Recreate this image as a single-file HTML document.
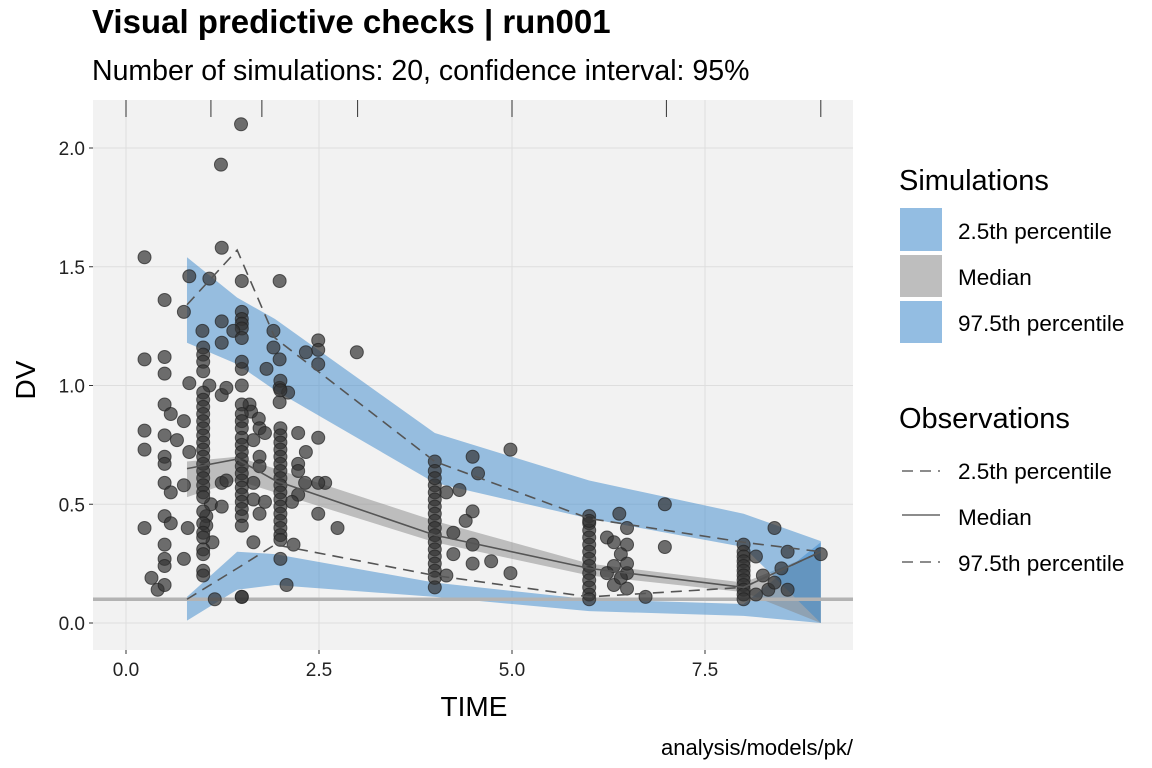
<!DOCTYPE html>
<html><head><meta charset="utf-8"><style>
body{margin:0;background:#fff;}
svg{display:block;font-family:"Liberation Sans",Arial,sans-serif;}
</style></head><body>
<svg id="chart" width="1152" height="768" viewBox="0 0 1152 768" xmlns="http://www.w3.org/2000/svg">
<text x="92" y="33" font-size="33" font-weight="bold">Visual predictive checks | run001</text>
<text x="92" y="80" font-size="28.5">Number of simulations: 20, confidence interval: 95%</text>
<rect x="93" y="100" width="760" height="550" fill="#f2f2f2"/>
<g id="grid"></g>
<g id="ribbons"></g>
<line id="lloq" x1="93" x2="853" stroke="#b3b3b3" stroke-width="3.5"/>
<g id="points"></g>
<g id="lines"></g>
<g id="rug"></g>
<g id="axes"></g>
<text x="474" y="716" font-size="28" text-anchor="middle">TIME</text>
<text transform="translate(35,380) rotate(-90)" font-size="28" text-anchor="middle">DV</text>
<text x="853" y="755" font-size="22" text-anchor="end">analysis/models/pk/</text>
<g>
<text x="899" y="190" font-size="29">Simulations</text>
<rect x="900" y="208" width="42" height="43" fill="#93bde2"/>
<rect x="900" y="255" width="42" height="42" fill="#bebebe"/>
<rect x="900" y="301" width="42" height="42" fill="#93bde2"/>
<text x="958" y="239" font-size="22.5">2.5th percentile</text>
<text x="958" y="285" font-size="22.5">Median</text>
<text x="958" y="331" font-size="22.5">97.5th percentile</text>
<text x="899" y="428" font-size="29">Observations</text>
<line x1="902" x2="940" y1="471" y2="471" stroke="#666" stroke-width="1.6" stroke-dasharray="11,7"/>
<line x1="902" x2="940" y1="515" y2="515" stroke="#666" stroke-width="1.6"/>
<line x1="902" x2="940" y1="562" y2="562" stroke="#666" stroke-width="1.6" stroke-dasharray="11,7"/>
<text x="958" y="479" font-size="22.5">2.5th percentile</text>
<text x="958" y="525" font-size="22.5">Median</text>
<text x="958" y="571" font-size="22.5">97.5th percentile</text>
</g>
</svg>
<script>
const xTicks=[0,2.5,5,7.5];
const xTickLabels=["0.0","2.5","5.0","7.5"];
const yTicks=[0,0.5,1,1.5,2];
const yTickLabels=["0.0","0.5","1.0","1.5","2.0"];
const binEdges=[0,1.1,1.76,3.0,5.0,7.0,9.0];
const lloq=0.1;
const binTimes=[0.79,1.44,1.93,4,6,8,9];
const simLoLo=[0.01,0.14,0.16,0.11,0.05,0.03,0.0];
const simLoHi=[0.11,0.30,0.29,0.17,0.10,0.08,0.34];
const simMedLo=[0.53,0.60,0.55,0.34,0.20,0.13,0.0];
const simMedHi=[0.68,0.70,0.65,0.43,0.25,0.17,0.30];
const simHiLo=[1.18,1.09,0.98,0.59,0.44,0.32,0.0];
const simHiHi=[1.54,1.37,1.28,0.80,0.60,0.46,0.345];
const obsLo=[0.10,0.23,0.33,0.20,0.11,0.15,0.30];
const obsMed=[0.65,0.69,0.60,0.37,0.23,0.15,0.30];
const obsHi=[1.34,1.57,1.20,0.68,0.44,0.34,0.30];
const obsTime=[0.24,1.24,0.82,1.08,1.5,1.99,0.5,0.75,1.24,1.5,1.5,1.5,1.5,0.99,1.24,1.39,1.91,1.91,1.99,2.49,2.49,2.49,2.33,2.99,0.24,0.5,0.5,0.82,1.08,1.5,1.5,1.82,1.24,1.3,1.99,1.99,2.1,0.5,0.58,0.75,0.24,0.24,0.5,0.66,0.5,0.5,0.82,0.5,0.58,0.75,0.24,0.5,0.58,0.8,0.5,0.5,0.5,0.75,0.33,0.41,0.5,1.24,1.3,1.1,1.24,1.04,1.12,1.04,1.6,1.62,1.72,1.65,1.73,1.8,1.65,1.73,1.73,1.65,1.8,1.65,1.73,2.23,2.33,2.23,2.23,2.32,2.23,2.15,2.58,2.49,2.49,2.49,2.74,2.17,2.08,1.15,1.5,1.49,1.23,
1,1,1,1,1,1,1,1,1,1,1,1,1,1,1,1,1,1,1,1,1,1,1,1,1,1,1,1,
1.5,1.5,1.5,1.5,1.5,1.5,1.5,1.5,1.5,1.5,1.5,1.5,1.5,1.5,1.5,1.5,1.5,1.5,1.5,1.5,
2,2,2,2,2,2,2,2,2,2,2,2,2,2,2,2,2,2,2,2,
4,4,4,4,4,4,4,4,4,4,4,4,4,4,4,4,4,4,4.49,4.56,4.98,4.15,4.32,4.49,4.40,4.24,4.24,4.49,4.49,4.73,4.98,4.15,
6,6,6,6,6,6,6,6,6,6,6,6,6,6,6.39,6.49,6.49,6.49,6.49,6.73,6.98,6.98,6.23,6.32,6.41,6.32,6.23,6.32,6.49,6.41,
8,8,8,8,8,8,8,8,8,8,8,8,8.40,8.57,8.49,8.16,8.25,8.32,8.57,8.40,8.16,9.0];
const obsDV=[1.54,1.58,1.46,1.45,1.44,1.44,1.36,1.31,1.27,1.31,1.28,1.26,1.24,1.23,1.18,1.23,1.23,1.16,1.11,1.19,1.15,1.09,1.14,1.14,1.11,1.12,1.05,1.01,1.0,1.07,1.0,1.07,0.96,0.99,0.99,0.93,0.97,0.92,0.88,0.85,0.81,0.73,0.79,0.77,0.70,0.67,0.72,0.59,0.55,0.58,0.40,0.45,0.42,0.40,0.33,0.27,0.24,0.27,0.19,0.14,0.16,0.59,0.60,0.50,0.49,0.45,0.34,0.41,0.92,0.89,0.86,0.77,0.82,0.80,0.59,0.70,0.66,0.52,0.51,0.34,0.46,0.80,0.72,0.67,0.64,0.59,0.54,0.51,0.59,0.59,0.78,0.46,0.40,0.33,0.16,0.10,0.11,2.10,1.93,
1.16,1.13,1.10,1.06,0.97,0.94,0.91,0.88,0.85,0.82,0.79,0.76,0.73,0.70,0.67,0.64,0.61,0.58,0.55,0.53,0.47,0.42,0.38,0.36,0.31,0.29,0.22,0.20,
0.92,0.88,0.85,0.82,0.78,0.75,0.72,0.69,0.66,0.63,0.60,0.57,0.54,0.51,0.48,0.45,0.41,1.20,1.10,0.11,
0.82,0.79,0.76,0.73,0.70,0.67,0.64,0.61,0.58,0.55,0.52,0.49,0.46,0.43,0.40,0.37,0.35,0.27,1.02,0.98,
0.58,0.55,0.52,0.49,0.46,0.43,0.40,0.37,0.34,0.31,0.28,0.25,0.22,0.19,0.15,0.68,0.64,0.61,0.70,0.63,0.73,0.55,0.56,0.47,0.43,0.38,0.29,0.33,0.25,0.26,0.21,0.20,
0.45,0.42,0.39,0.36,0.33,0.30,0.27,0.24,0.21,0.18,0.15,0.12,0.10,0.43,0.46,0.40,0.33,0.21,0.145,0.11,0.50,0.32,0.36,0.34,0.29,0.24,0.21,0.16,0.25,0.19,
0.33,0.30,0.28,0.26,0.24,0.22,0.20,0.18,0.16,0.14,0.12,0.10,0.40,0.30,0.23,0.28,0.20,0.14,0.14,0.17,0.12,0.29];

const NS="http://www.w3.org/2000/svg";
const X0=126,XS=77.2,Y0=623,YS=237.5;
const sx=t=>X0+t*XS, sy=v=>Y0-v*YS;
function mk(tag,attrs,parent){const e=document.createElementNS(NS,tag);for(const k in attrs)e.setAttribute(k,attrs[k]);parent.appendChild(e);return e;}
const grid=document.getElementById('grid');
xTicks.forEach(t=>{const l=mk('line',{x1:sx(t),x2:sx(t),y1:100,y2:650,stroke:'#dedede','stroke-width':1},grid);

});
yTicks.forEach(v=>{const l=mk('line',{x1:93,x2:853,y1:sy(v),y2:sy(v),stroke:'#dedede','stroke-width':1},grid);

});
const rib=document.getElementById('ribbons');
function band(lo,hi,fill,op,name){
 let d='M'+binTimes.map((t,i)=>sx(t)+','+sy(hi[i])).join('L');
 d+='L'+binTimes.map((t,i)=>sx(t)+','+sy(lo[i])).reverse().join('L')+'Z';
 const p=mk('path',{d:d,fill:fill,'fill-opacity':op},rib);
 
 
}
band(simLoLo,simLoHi,'#3a87cc',0.5,'ribbon-p2.5');
band(simMedLo,simMedHi,'#888888',0.5,'ribbon-median');
band(simHiLo,simHiHi,'#3a87cc',0.5,'ribbon-p97.5');
const ll=document.getElementById('lloq');ll.setAttribute('y1',sy(lloq));ll.setAttribute('y2',sy(lloq));
const pts=document.getElementById('points');
obsTime.forEach((t,i)=>{const c=mk('circle',{cx:sx(t),cy:sy(obsDV[i]),r:6.5,fill:'#333333','fill-opacity':0.7,stroke:'#222','stroke-opacity':0.7,'stroke-width':1},pts);

});
const lines=document.getElementById('lines');
function pl(vals,dash,name){const p=mk('polyline',{points:binTimes.map((t,i)=>sx(t)+','+sy(vals[i])).join(' '),fill:'none',stroke:'#555','stroke-width':1.6},lines);
 if(dash)p.setAttribute('stroke-dasharray',dash);
 
 }
pl(obsLo,'11,7','obs-line-p2.5');pl(obsMed,null,'obs-line-median');pl(obsHi,'11,7','obs-line-p97.5');
const rug=document.getElementById('rug');
binEdges.forEach(t=>{const l=mk('line',{x1:sx(t),x2:sx(t),y1:100,y2:117,stroke:'#333','stroke-width':1},rug);

});
const ax=document.getElementById('axes');
xTicks.forEach((t,i)=>{mk('line',{x1:sx(t),x2:sx(t),y1:650,y2:654,stroke:'#333'},ax);
const tx=mk('text',{x:sx(t),y:676,'font-size':19,'text-anchor':'middle',fill:'#222'},ax);tx.textContent=xTickLabels[i];

});
yTicks.forEach((v,i)=>{mk('line',{x1:89,x2:93,y1:sy(v),y2:sy(v),stroke:'#333'},ax);
const tx=mk('text',{x:85,y:sy(v)+7,'font-size':19,'text-anchor':'end',fill:'#222'},ax);tx.textContent=yTickLabels[i];

});
</script>
</body></html>
